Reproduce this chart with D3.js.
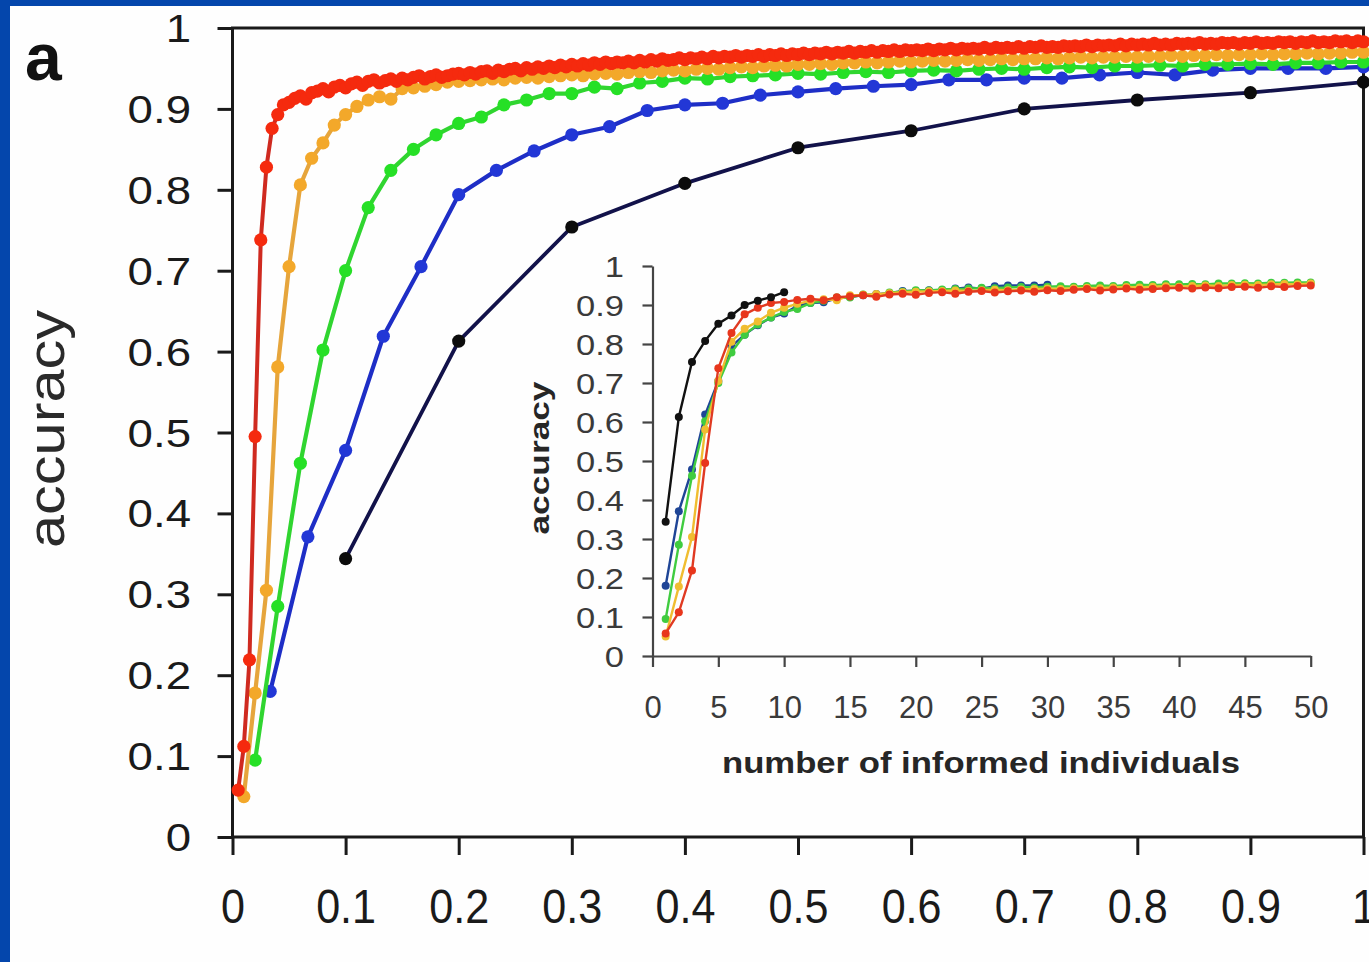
<!DOCTYPE html>
<html><head><meta charset="utf-8">
<script src="https://cdn.jsdelivr.net/npm/d3@7"></script>
<style>html,body{margin:0;padding:0;background:#0446ac;overflow:hidden}svg{display:block}</style>
</head><body>
<svg id="c" width="1369" height="962"></svg>
<script>
// ---- data ----
const groupSizes = [10, 30, 50, 100, 200];
const seriesNames = ["N10", "N30", "N50", "N100", "N200"];
const blackVals = [0.344,0.613,0.754,0.808,0.852,0.873,0.900,0.911,0.920,0.933];
const blueVals = [0.180,0.371,0.478,0.619,0.705,0.794,0.824,0.848,0.868,0.878,
  0.898,0.905,0.907,0.917,0.921,0.925,0.928,0.930,0.936,0.936,
  0.938,0.938,0.942,0.945,0.942,0.948,0.950,0.950,0.950,0.952];
const greenVals = [0.095,0.285,0.462,0.602,0.700,0.778,0.824,0.850,0.868,0.882,
  0.890,0.905,0.911,0.919,0.919,0.927,0.925,0.932,0.934,0.938,
  0.937,0.940,0.941,0.942,0.944,0.943,0.945,0.946,0.945,0.947,
  0.948,0.947,0.949,0.950,0.949,0.951,0.952,0.951,0.953,0.953,
  0.954,0.953,0.955,0.955,0.956,0.955,0.957,0.957,0.958,0.958];
const orangeVals = [0.050,0.178,0.305,0.581,0.705,0.806,0.839,0.858,0.880,0.893,
  0.903,0.911,0.915,0.912,0.925,0.926,0.928,0.930,0.933,0.934,
  0.935,0.936,0.937,0.936,0.938,0.939,0.938,0.940,0.941,0.942,
  0.941,0.943,0.944,0.943,0.945,0.946,0.945,0.947,0.948,0.947,
  0.949,0.950,0.949,0.951,0.952,0.951,0.953,0.954,0.953,0.955,
  0.955,0.956,0.955,0.957,0.957,0.958,0.957,0.958,0.959,0.958,
  0.959,0.960,0.959,0.960,0.961,0.960,0.961,0.962,0.961,0.962,
  0.962,0.963,0.962,0.963,0.964,0.963,0.964,0.964,0.965,0.964,
  0.965,0.965,0.966,0.965,0.966,0.966,0.967,0.966,0.967,0.967,
  0.968,0.967,0.968,0.968,0.969,0.968,0.969,0.969,0.970,0.970];
const redVals = [0.058,0.112,0.219,0.495,0.738,0.828,0.876,0.893,0.905,0.908,
  0.913,0.916,0.912,0.920,0.922,0.925,0.921,0.927,0.929,0.926,
  0.931,0.933,0.929,0.934,0.936,0.932,0.935,0.937,0.934,0.938,
  0.936,0.939,0.941,0.937,0.940,0.942,0.939,0.941,0.943,0.944,
  0.942,0.945,0.943,0.946,0.947,0.944,0.948,0.946,0.949,0.950,
  0.947,0.951,0.949,0.952,0.950,0.953,0.951,0.954,0.952,0.955,
  0.953,0.956,0.954,0.957,0.955,0.958,0.956,0.958,0.957,0.959,
  0.957,0.960,0.958,0.961,0.959,0.962,0.960,0.961,0.963,0.961,
  0.963,0.962,0.964,0.962,0.965,0.963,0.965,0.964,0.966,0.964,
  0.966,0.965,0.967,0.965,0.967,0.966,0.968,0.966,0.968,0.967,
  0.969,0.967,0.969,0.968,0.970,0.968,0.970,0.969,0.971,0.969,
  0.971,0.970,0.972,0.970,0.972,0.971,0.973,0.971,0.973,0.972,
  0.973,0.972,0.974,0.972,0.974,0.973,0.975,0.973,0.975,0.974,
  0.975,0.974,0.976,0.974,0.976,0.975,0.976,0.975,0.977,0.975,
  0.977,0.976,0.978,0.976,0.977,0.976,0.978,0.977,0.978,0.977,
  0.979,0.977,0.979,0.978,0.979,0.978,0.980,0.978,0.980,0.979,
  0.980,0.979,0.981,0.979,0.980,0.979,0.981,0.980,0.981,0.980,
  0.982,0.980,0.981,0.980,0.982,0.981,0.982,0.980,0.982,0.981,
  0.983,0.981,0.982,0.981,0.983,0.982,0.983,0.981,0.983,0.982,
  0.984,0.982,0.983,0.982,0.984,0.983,0.984,0.982,0.984,0.983];
const mainXTicks = [0,0.1,0.2,0.3,0.4,0.5,0.6,0.7,0.8,0.9,1];
const mainXTickLabels = ["0","0.1","0.2","0.3","0.4","0.5","0.6","0.7","0.8","0.9","1"];
const mainYTicks = [0,0.1,0.2,0.3,0.4,0.5,0.6,0.7,0.8,0.9,1];
const mainYTickLabels = ["0","0.1","0.2","0.3","0.4","0.5","0.6","0.7","0.8","0.9","1"];
const insetXTicks = [0,5,10,15,20,25,30,35,40,45,50];
const insetXTickLabels = ["0","5","10","15","20","25","30","35","40","45","50"];
const insetYTicks = mainYTicks;
const insetYTickLabels = mainYTickLabels;
const panelLabel = "a";
const yTitle = "accuracy";
const insetXTitle = "number of informed individuals";
const insetYTitle = "accuracy";

// ---- styles ----
const FONT = "'Liberation Sans', Arial, Helvetica, sans-serif";
const styles = {
  N10:  {line:"#12124a", marker:"#0c0c0c", inLine:"#111111", inMarker:"#111111", w:3.8},
  N30:  {line:"#1e2ec6", marker:"#2237d6", inLine:"#1f4596", inMarker:"#1f4596", w:4.2},
  N50:  {line:"#30d530", marker:"#26e026", inLine:"#40cc40", inMarker:"#40cc40", w:4.2},
  N100: {line:"#e6a53c", marker:"#f3a82a", inLine:"#f0bd30", inMarker:"#f0bd30", w:4.2},
  N200: {line:"#cf2a20", marker:"#f52a0e", inLine:"#e03a22", inMarker:"#e8361c", w:4}
};
const allVals = [blackVals, blueVals, greenVals, orangeVals, redVals];
const series = seriesNames.map((name, i) => ({
  name, N: groupSizes[i],
  pts: allVals[i].map((v, k) => ({n: k + 1, frac: (k + 1) / groupSizes[i], y: v}))
}));

const svg = d3.select("#c");
svg.append("rect").attr("x", 10).attr("y", 6).attr("width", 1359).attr("height", 956).attr("fill", "#fefefe");

// ---- main chart ----
const x = d3.scaleLinear().domain([0, 1]).range([232.5, 1363.5]);
const y = d3.scaleLinear().domain([0, 1]).range([837, 28]);

const gx = svg.append("g").attr("transform", "translate(0,837)")
  .call(d3.axisBottom(x).tickValues(mainXTicks).tickSize(18).tickSizeOuter(0)
    .tickFormat((d, i) => mainXTickLabels[i]));
gx.select(".domain").remove();
gx.selectAll("line").attr("stroke", "#1a1a1a").attr("stroke-width", 3);
gx.selectAll("text").attr("y", 86).attr("dy", null).attr("fill", "#1a1a1a")
  .attr("font-family", FONT).attr("font-size", 49).attr("transform", "scale(0.88,1)");

const gy = svg.append("g").attr("transform", "translate(232.5,0)")
  .call(d3.axisLeft(y).tickValues(mainYTicks).tickSize(15).tickSizeOuter(0)
    .tickFormat((d, i) => mainYTickLabels[i]));
gy.select(".domain").remove();
gy.selectAll("line").attr("stroke", "#1a1a1a").attr("stroke-width", 3);
gy.selectAll("text").attr("x", -34.6).attr("dy", null).attr("y", 13.5).attr("fill", "#1a1a1a")
  .attr("font-family", FONT).attr("font-size", 38).attr("transform", "scale(1.2,1)");

svg.append("rect").attr("x", x(0)).attr("y", y(1)).attr("width", x(1) - x(0)).attr("height", y(0) - y(1))
  .attr("fill", "none").attr("stroke", "#1a1a1a").attr("stroke-width", 3);

const mainLine = d3.line().x(d => x(d.frac)).y(d => y(d.y));
series.forEach(s => {
  const st = styles[s.name];
  const g = svg.append("g");
  g.append("path").datum(s.pts).attr("d", mainLine).attr("fill", "none")
    .attr("stroke", st.line).attr("stroke-width", st.w).attr("stroke-linejoin", "round");
  g.selectAll("circle").data(s.pts).join("circle")
    .attr("cx", d => x(d.frac)).attr("cy", d => y(d.y)).attr("r", 6.6).attr("fill", st.marker);
});

svg.append("text").attr("x", 25).attr("y", 80).attr("font-family", FONT).attr("font-weight", "bold")
  .attr("font-size", 66).attr("fill", "#111").text(panelLabel);
svg.append("text").attr("transform", "translate(64,429) rotate(-90)").attr("text-anchor", "middle")
  .attr("font-family", FONT).attr("font-size", 52).attr("fill", "#2a2a2a")
  .attr("textLength", 238).attr("lengthAdjust", "spacingAndGlyphs").text(yTitle);

// ---- inset ----
const xi = d3.scaleLinear().domain([0, 50]).range([652.5, 1310.7]);
const yi = d3.scaleLinear().domain([0, 1]).range([656, 266]);

const ix = svg.append("g").attr("transform", "translate(0,656)")
  .call(d3.axisBottom(xi).tickValues(insetXTicks).tickSize(11).tickSizeOuter(0)
    .tickFormat((d, i) => insetXTickLabels[i]));
ix.select(".domain").attr("stroke", "#444").attr("stroke-width", 2.2);
ix.selectAll("line").attr("stroke", "#444").attr("stroke-width", 2.2);
ix.selectAll("text").attr("y", 62).attr("dy", null).attr("fill", "#3a3a3a")
  .attr("font-family", FONT).attr("font-size", 31);

const iy = svg.append("g").attr("transform", "translate(652.5,0)")
  .call(d3.axisLeft(yi).tickValues(insetYTicks).tickSize(10).tickSizeOuter(0)
    .tickFormat((d, i) => insetYTickLabels[i]));
iy.select(".domain").attr("stroke", "#444").attr("stroke-width", 2.2);
iy.selectAll("line").attr("stroke", "#444").attr("stroke-width", 2.2);
iy.selectAll("text").attr("x", -24.8).attr("dy", null).attr("y", 10.5).attr("fill", "#3a3a3a")
  .attr("font-family", FONT).attr("font-size", 30).attr("transform", "scale(1.15,1)");

const inLine = d3.line().x(d => xi(d.n)).y(d => yi(d.y));
const insetOrder = ["N30", "N50", "N100", "N200", "N10"];
insetOrder.forEach(name => {
  const s = series.find(t => t.name === name);
  const st = styles[name];
  const pts = s.pts.filter(d => d.n <= 50);
  const g = svg.append("g");
  g.append("path").datum(pts).attr("d", inLine).attr("fill", "none")
    .attr("stroke", st.inLine).attr("stroke-width", 2.4);
  g.selectAll("circle").data(pts).join("circle")
    .attr("cx", d => xi(d.n)).attr("cy", d => yi(d.y)).attr("r", 4).attr("fill", st.inMarker);
});

svg.append("text").attr("x", 981).attr("y", 773).attr("text-anchor", "middle")
  .attr("font-family", FONT).attr("font-weight", "bold").attr("font-size", 30).attr("fill", "#262626")
  .attr("textLength", 518).attr("lengthAdjust", "spacingAndGlyphs").text(insetXTitle);
svg.append("text").attr("transform", "translate(549,458) rotate(-90)").attr("text-anchor", "middle")
  .attr("font-family", FONT).attr("font-weight", "bold").attr("font-size", 27).attr("fill", "#262626")
  .attr("textLength", 153).attr("lengthAdjust", "spacingAndGlyphs").text(insetYTitle);
</script>
</body></html>
